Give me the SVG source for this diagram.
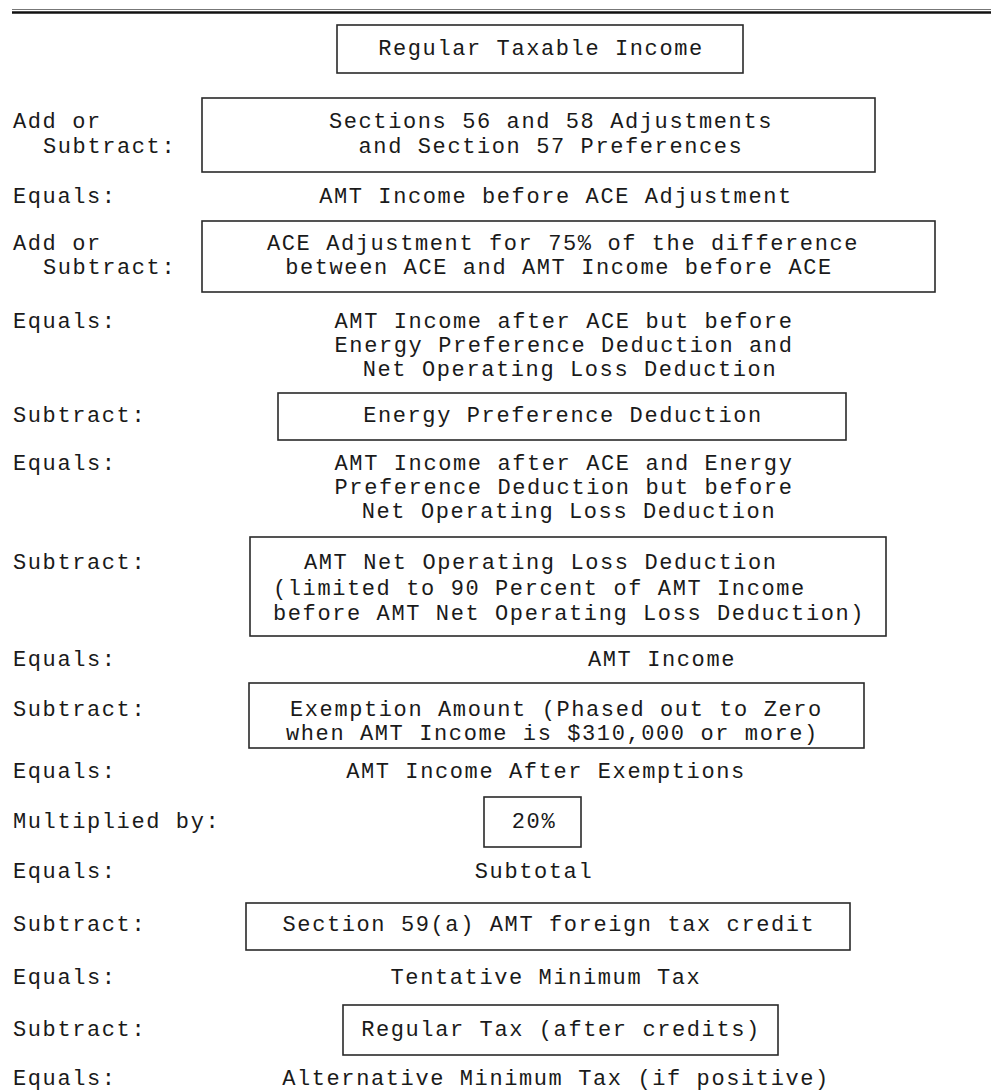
<svg xmlns="http://www.w3.org/2000/svg" width="991" height="1090" viewBox="0 0 991 1090">
<style>
text{font-family:"Liberation Mono","DejaVu Sans Mono",monospace;font-size:22px;letter-spacing:1.6px;fill:#1a1a1a}
.c{text-anchor:middle}
.box{fill:#fff;stroke:#2a2a2a;stroke-width:1.6}
</style>
<rect width="991" height="1090" fill="#fff"/>
<g id="rule">
<line x1="12" y1="9.5" x2="991" y2="9.5" stroke="#777" stroke-width="1.2"/>
<line x1="12" y1="12.5" x2="991" y2="12.5" stroke="#111" stroke-width="2.5"/>
</g>
<g id="labels">
<text x="13" y="128">Add or</text>
<text x="43" y="153">Subtract:</text>
<text x="13" y="203">Equals:</text>
<text x="13" y="250">Add or</text>
<text x="43" y="274">Subtract:</text>
<text x="13" y="328">Equals:</text>
<text x="13" y="422">Subtract:</text>
<text x="13" y="470">Equals:</text>
<text x="13" y="569">Subtract:</text>
<text x="13" y="666">Equals:</text>
<text x="13" y="716">Subtract:</text>
<text x="13" y="778">Equals:</text>
<text x="13" y="828">Multiplied by:</text>
<text x="13" y="878">Equals:</text>
<text x="13" y="931">Subtract:</text>
<text x="13" y="984">Equals:</text>
<text x="13" y="1036">Subtract:</text>
<text x="13" y="1085">Equals:</text>
</g>
<g id="n1"><rect class="box" x="337" y="25" width="406" height="48"/><text class="c" x="541" y="55">Regular Taxable Income</text></g>
<g id="n2"><rect class="box" x="202" y="98" width="673" height="74"/><text class="c" x="551" y="128">Sections 56 and 58 Adjustments</text><text class="c" x="551" y="153">and Section 57 Preferences</text></g>
<g id="n3"><text class="c" x="556" y="203">AMT Income before ACE Adjustment</text></g>
<g id="n4"><rect class="box" x="202" y="221" width="733" height="71"/><text class="c" x="563" y="250">ACE Adjustment for 75% of the difference</text><text class="c" x="559" y="274">between ACE and AMT Income before ACE</text></g>
<g id="n5"><text class="c" x="564" y="328">AMT Income after ACE but before</text><text class="c" x="564" y="352">Energy Preference Deduction and</text><text class="c" x="570" y="376">Net Operating Loss Deduction</text></g>
<g id="n6"><rect class="box" x="278" y="393" width="568" height="47"/><text class="c" x="563" y="422">Energy Preference Deduction</text></g>
<g id="n7"><text class="c" x="564" y="470">AMT Income after ACE and Energy</text><text class="c" x="564" y="494">Preference Deduction but before</text><text class="c" x="569" y="518">Net Operating Loss Deduction</text></g>
<g id="n8"><rect class="box" x="250" y="537" width="636" height="99"/><text x="304" y="569">AMT Net Operating Loss Deduction</text><text x="273" y="595">(limited to 90 Percent of AMT Income</text><text x="273" y="620">before AMT Net Operating Loss Deduction)</text></g>
<g id="n9"><text class="c" x="662" y="666">AMT Income</text></g>
<g id="n10"><rect class="box" x="249" y="683" width="615" height="65"/><text x="290" y="716">Exemption Amount (Phased out to Zero</text><text x="286" y="740">when AMT Income is $310,000 or more)</text></g>
<g id="n11"><text class="c" x="546" y="778">AMT Income After Exemptions</text></g>
<g id="n12"><rect class="box" x="484" y="797" width="97" height="50"/><text class="c" x="534" y="828">20%</text></g>
<g id="n13"><text class="c" x="534" y="878">Subtotal</text></g>
<g id="n14"><rect class="box" x="246" y="903" width="604" height="47"/><text class="c" x="549" y="931">Section 59(a) AMT foreign tax credit</text></g>
<g id="n15"><text class="c" x="546" y="984">Tentative Minimum Tax</text></g>
<g id="n16"><rect class="box" x="343" y="1005" width="435" height="50"/><text class="c" x="561" y="1036">Regular Tax (after credits)</text></g>
<g id="n17"><text class="c" x="556" y="1085">Alternative Minimum Tax (if positive)</text></g>
<g id="connectors"></g>
</svg>
